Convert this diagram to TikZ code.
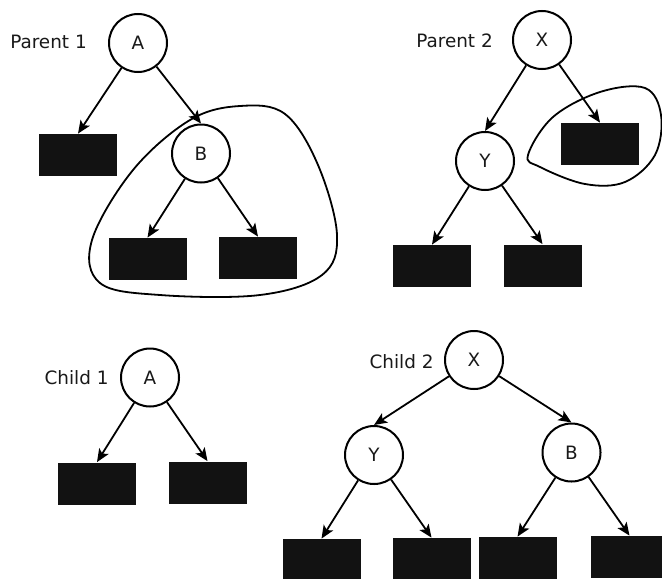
\documentclass[tikz,border=0pt]{standalone}
\usepackage{fontspec}
\setmainfont{DejaVu Sans}
\usetikzlibrary{arrows.meta}
\tikzset{
  gene/.style      = {circle, draw=black, line width=1pt, fill=white, minimum size=29pt,
                      inner sep=0pt, font=\fontsize{9.2}{11}\selectfont, text=black!90},
  leaf/.style      = {rectangle, fill=black!93, minimum width=39pt, minimum height=21pt,
                      inner sep=0pt},
  treelabel/.style = {font=\fontsize{9.2}{11}\selectfont, text=black!90},
  link/.style      = {line width=0.9pt, -{Stealth[length=6.5pt, width=5.5pt, inset=1.5pt]}},
  hull/.style      = {line width=0.9pt, tension=0.6},
}

\begin{document}
\begin{tikzpicture}[x=0.5pt, y=-0.5pt]
\useasboundingbox (0,0) rectangle (662,578);

% =============== PARENT 1 ===============
\node[treelabel] at (48.5,42) {Parent 1};
\node (p1a)  [gene] at (138,43)    {A};
\node (p1l)  [leaf] at (78,155)    {};
\node (p1b)  [gene] at (201,153.5) {B};
\node (p1bl) [leaf] at (147.5,259) {};
\node (p1br) [leaf] at (258,258)   {};

% subtree picked out for crossover
\draw[hull] plot[smooth cycle] coordinates {(240,106) (285,114) (318,165) (337,235)
  (322,275) (260,295) (160,295) (100,283) (92,240) (133,170) (190,120)};

% =============== PARENT 2 ===============
\node[treelabel] at (454.5,41) {Parent 2};
\node (p2x)  [gene] at (542,40)    {X};
\node (p2y)  [gene] at (485,161)   {Y};
\node (p2r)  [leaf] at (600,144)   {};
\node (p2yl) [leaf] at (432,266)   {};
\node (p2yr) [leaf] at (542.5,265.5) {};

\draw[hull] plot[smooth cycle] coordinates {(528,155) (553,117) (600,92) (645,88)
  (661,115) (655,155) (625,182) (585,184) (540,167)};

% =============== CHILD 1 ===============
\node[treelabel] at (76.5,378) {Child 1};
\node (c1a) [gene] at (150,377.5) {A};
\node (c1l) [leaf] at (97,483.5)  {};
\node (c1r) [leaf] at (207.5,482.5) {};

% =============== CHILD 2 ===============
\node[treelabel] at (401.5,362) {Child 2};
\node (c2x)  [gene] at (474,360)   {X};
\node (c2y)  [gene] at (374,455)   {Y};
\node (c2b)  [gene] at (571.5,452.5) {B};
\node (c2yl) [leaf] at (321.5,560) {};
\node (c2yr) [leaf] at (431.5,559) {};
\node (c2bl) [leaf] at (517.5,558) {};
\node (c2br) [leaf] at (629.5,557) {};

% parent -> child links
\foreach \a/\b in {p1a/p1l, p1a/p1b, p1b/p1bl, p1b/p1br,
                   p2x/p2y, p2x/p2r, p2y/p2yl, p2y/p2yr,
                   c1a/c1l, c1a/c1r,
                   c2x/c2y, c2x/c2b, c2y/c2yl, c2y/c2yr, c2b/c2bl, c2b/c2br}
  \draw[link] (\a) -- (\b.north);

\end{tikzpicture}
\end{document}
